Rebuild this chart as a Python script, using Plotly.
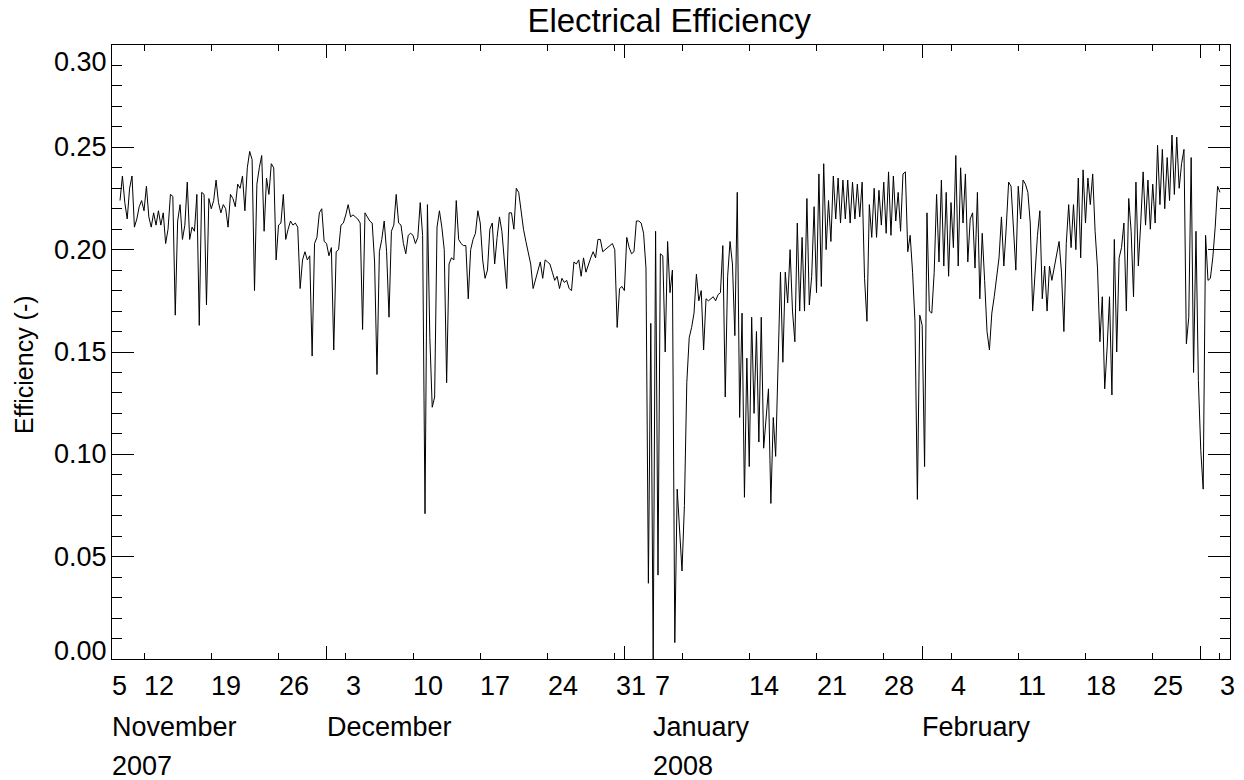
import pandas as pd
import plotly.graph_objects as go

# ---- data: electrical efficiency, sampled every 6 hours from 2007-11-09 12:00 ----
series_start = "2007-11-09 12:00"
series_step = "6h"

eff_seg1 = [0.224, 0.236, 0.223, 0.215, 0.230, 0.236, 0.211, 0.215, 0.221, 0.224,
            0.219, 0.231, 0.216, 0.211, 0.218, 0.212, 0.219, 0.212, 0.218, 0.203,
            0.210, 0.227, 0.226, 0.168, 0.214, 0.222, 0.205, 0.212, 0.233, 0.205,
            0.211, 0.209, 0.227, 0.163, 0.228, 0.227, 0.173, 0.225, 0.220, 0.224,
            0.234, 0.223, 0.218, 0.222, 0.220, 0.211, 0.227, 0.225, 0.221, 0.232,
            0.230, 0.236, 0.219, 0.240, 0.248, 0.244, 0.180, 0.232, 0.240, 0.246,
            0.209, 0.235, 0.227, 0.242, 0.240, 0.195, 0.212, 0.213, 0.227, 0.205,
            0.210, 0.214, 0.212, 0.213, 0.211, 0.181]
eff_seg2 = [0.195, 0.199, 0.195, 0.197, 0.148, 0.203, 0.206, 0.218, 0.220, 0.204,
            0.203, 0.197, 0.201, 0.151, 0.199, 0.200, 0.212, 0.213, 0.217, 0.222,
            0.216, 0.217, 0.216, 0.215, 0.213, 0.161, 0.218, 0.216, 0.214, 0.213,
            0.194, 0.139, 0.199, 0.205, 0.214, 0.199, 0.167, 0.209, 0.212, 0.227,
            0.213, 0.212, 0.203, 0.198, 0.207, 0.208, 0.207, 0.203, 0.206, 0.223,
            0.207, 0.071, 0.222, 0.157, 0.123, 0.128, 0.211, 0.219, 0.211, 0.200,
            0.135, 0.193, 0.196, 0.195, 0.224, 0.205, 0.203, 0.202, 0.202, 0.176,
            0.200, 0.205, 0.208, 0.219, 0.213, 0.195, 0.186, 0.190, 0.210]
eff_seg3 = [0.213, 0.193, 0.206, 0.216, 0.209, 0.195, 0.181, 0.218, 0.218, 0.210,
            0.230, 0.228, 0.219, 0.210, 0.204, 0.198, 0.193, 0.181, 0.185, 0.190,
            0.194, 0.186, 0.195, 0.194, 0.193, 0.189, 0.185, 0.187, 0.181, 0.186,
            0.184, 0.185, 0.181, 0.180, 0.194, 0.193, 0.195, 0.187, 0.196, 0.189,
            0.193, 0.196, 0.199, 0.196, 0.205, 0.205, 0.199, 0.200, 0.201, 0.202,
            0.203, 0.200, 0.162, 0.181, 0.182, 0.180, 0.206, 0.201, 0.198, 0.199,
            0.214, 0.214, 0.213, 0.208, 0.191, 0.037, 0.164, 0.000, 0.209, 0.041,
            0.198, 0.197, 0.150, 0.204, 0.179, 0.190, 0.008, 0.083, 0.063]
eff_seg4 = [0.043, 0.075, 0.135, 0.157, 0.162, 0.169, 0.188, 0.175, 0.180, 0.151,
            0.176, 0.175, 0.176, 0.177, 0.175, 0.178, 0.179, 0.202, 0.128, 0.187,
            0.204, 0.193, 0.158, 0.228, 0.118, 0.169, 0.079, 0.147, 0.094, 0.167,
            0.120, 0.160, 0.106, 0.167, 0.103, 0.118, 0.132, 0.076, 0.118, 0.099,
            0.145, 0.189, 0.145, 0.189, 0.174, 0.200, 0.170, 0.155, 0.213, 0.170,
            0.206, 0.170, 0.225, 0.173, 0.187, 0.221, 0.179, 0.237, 0.182, 0.242,
            0.200, 0.224, 0.204, 0.236, 0.215, 0.235, 0.213, 0.234, 0.215, 0.234,
            0.213, 0.233, 0.215, 0.232, 0.216, 0.233, 0.186, 0.165, 0.222]
eff_seg5 = [0.206, 0.230, 0.206, 0.229, 0.212, 0.233, 0.208, 0.238, 0.207, 0.236,
            0.214, 0.228, 0.209, 0.237, 0.238, 0.199, 0.207, 0.189, 0.165, 0.078,
            0.168, 0.163, 0.094, 0.218, 0.170, 0.169, 0.189, 0.227, 0.194, 0.234,
            0.192, 0.228, 0.187, 0.223, 0.201, 0.246, 0.192, 0.240, 0.213, 0.237,
            0.194, 0.215, 0.218, 0.191, 0.228, 0.176, 0.208, 0.185, 0.160, 0.151,
            0.169, 0.177, 0.187, 0.196, 0.216, 0.192, 0.211, 0.233, 0.231, 0.210,
            0.190, 0.231, 0.215, 0.234, 0.232, 0.228, 0.213, 0.170, 0.191, 0.207,
            0.219, 0.176, 0.192, 0.170, 0.192, 0.185, None, None]
eff_seg6 = [0.204, 0.189, 0.160, 0.203, 0.222, 0.201, 0.222, 0.200, 0.235, 0.196,
            0.239, 0.213, 0.235, 0.222, 0.237, 0.209, 0.191, 0.155, 0.177, 0.132,
            0.152, 0.177, 0.129, 0.205, 0.150, 0.196, 0.201, 0.213, 0.170, 0.225,
            0.209, 0.177, 0.233, 0.192, 0.213, 0.238, 0.212, 0.234, 0.210, 0.232,
            0.213, 0.251, 0.222, 0.249, 0.220, 0.245, 0.224, 0.256, 0.227, 0.255,
            0.230, 0.242, 0.249, 0.154, 0.167, 0.245, 0.140, 0.209, 0.136, 0.102,
            0.083, 0.207, 0.185, 0.186, 0.196, 0.211, 0.231, 0.228]

# ---- axis definitions ----
x_range = ["2007-11-08 16:00", "2008-03-04 01:00"]
y_range = [0.0, 0.30]
month_ticks = ["2007-12-01", "2008-01-01", "2008-02-01", "2008-03-01"]
week_ticks = ["2007-11-12", "2007-11-19", "2007-11-26", "2007-12-03", "2007-12-10",
              "2007-12-17", "2007-12-24", "2007-12-31", "2008-01-07", "2008-01-14",
              "2008-01-21", "2008-01-28", "2008-02-04", "2008-02-11", "2008-02-18",
              "2008-02-25", "2008-03-03"]
day_label_pos = [x_range[0], "2007-11-12", "2007-11-19", "2007-11-26", "2007-12-03",
                 "2007-12-10", "2007-12-17", "2007-12-24", "2007-12-31 04:00",
                 "2008-01-04 04:00", "2008-01-14", "2008-01-21", "2008-01-28",
                 "2008-02-04", "2008-02-11", "2008-02-18", "2008-02-25", "2008-03-03"]
day_labels = ["5", "12", "19", "26", "3", "10", "17", "24", "31", "7", "14", "21",
              "28", "4", "11", "18", "25", "3"]
month_label_pos = [x_range[0], "2007-12-01", "2008-01-04", "2008-02-01"]
month_labels = ["November", "December", "January", "February"]
year_label_pos = [x_range[0], "2008-01-04"]
year_labels = ["2007", "2008"]
y_tick_vals = [0.00, 0.05, 0.10, 0.15, 0.20, 0.25, 0.30]
y_tick_text = ["0.00", "0.05", "0.10", "0.15", "0.20", "0.25", "0.30"]

values = eff_seg1 + eff_seg2 + eff_seg3 + eff_seg4 + eff_seg5 + eff_seg6
times = pd.date_range(series_start, periods=len(values), freq=series_step)

FONT = "Liberation Sans, Arial, Helvetica, sans-serif"
TICKFONT = dict(family=FONT, size=27, color="black")

fig = go.Figure()
fig.add_trace(go.Scatter(x=times, y=values, mode="lines",
                         line=dict(color="black", width=1),
                         connectgaps=True, hoverinfo="skip"))

annotations = []
for pos, txt in zip(day_label_pos, day_labels):
    annotations.append(dict(x=pos, y=0, xref="x", yref="paper", text=txt,
                            showarrow=False, xanchor="left", yanchor="middle",
                            yshift=-27, xshift=-2, font=TICKFONT))
for pos, txt in zip(month_label_pos, month_labels):
    annotations.append(dict(x=pos, y=0, xref="x", yref="paper", text=txt,
                            showarrow=False, xanchor="left", yanchor="middle",
                            yshift=-68, xshift=-2, font=TICKFONT))
for pos, txt in zip(year_label_pos, year_labels):
    annotations.append(dict(x=pos, y=0, xref="x", yref="paper", text=txt,
                            showarrow=False, xanchor="left", yanchor="middle",
                            yshift=-107, xshift=-2, font=TICKFONT))
for val, txt in zip(y_tick_vals, y_tick_text):
    shift = 0
    if val == y_range[1]:
        shift = -17
    elif val == y_range[0]:
        shift = 8
    annotations.append(dict(x=0, y=val, xref="paper", yref="y", text=txt,
                            showarrow=False, xanchor="right", yanchor="middle",
                            xshift=-3, yshift=shift, font=TICKFONT))
annotations.append(dict(x=0, y=0.479, xref="paper", yref="paper",
                        text="Efficiency (-)", textangle=-90, showarrow=False,
                        xanchor="center", yanchor="middle", xshift=-88,
                        font=dict(family=FONT, size=25, color="black")))

fig.update_layout(
    width=1244, height=780,
    margin=dict(l=112, r=14, t=45, b=121),
    paper_bgcolor="white", plot_bgcolor="white",
    showlegend=False,
    title=dict(text="Electrical Efficiency", x=0.538, xanchor="center",
               y=1 - 20 / 780, yanchor="middle", yref="container",
               font=dict(family=FONT, size=33, color="black")),
    annotations=annotations,
    xaxis=dict(type="date", range=x_range, showgrid=False, zeroline=False,
               showline=True, linecolor="black", linewidth=1, mirror="allticks",
               ticks="inside", tickmode="array", tickvals=month_ticks,
               ticklen=13, tickwidth=1, tickcolor="black", showticklabels=False,
               minor=dict(tickmode="array", tickvals=week_ticks, ticks="inside",
                          ticklen=6, tickwidth=1, tickcolor="black", showgrid=False)),
    yaxis=dict(range=y_range, showgrid=False, zeroline=False,
               showline=True, linecolor="black", linewidth=1, mirror="allticks",
               ticks="inside", tickmode="linear", tick0=0, dtick=0.05,
               ticklen=22, tickwidth=1, tickcolor="black", showticklabels=False,
               minor=dict(tickmode="linear", tick0=0, dtick=0.01, ticks="inside",
                          ticklen=10, tickwidth=1, tickcolor="black", showgrid=False)),
)

fig.write_html("out.html", config={"displayModeBar": False},
               post_script="document.body.style.margin='0';"
                           "document.body.style.overflow='hidden';")
